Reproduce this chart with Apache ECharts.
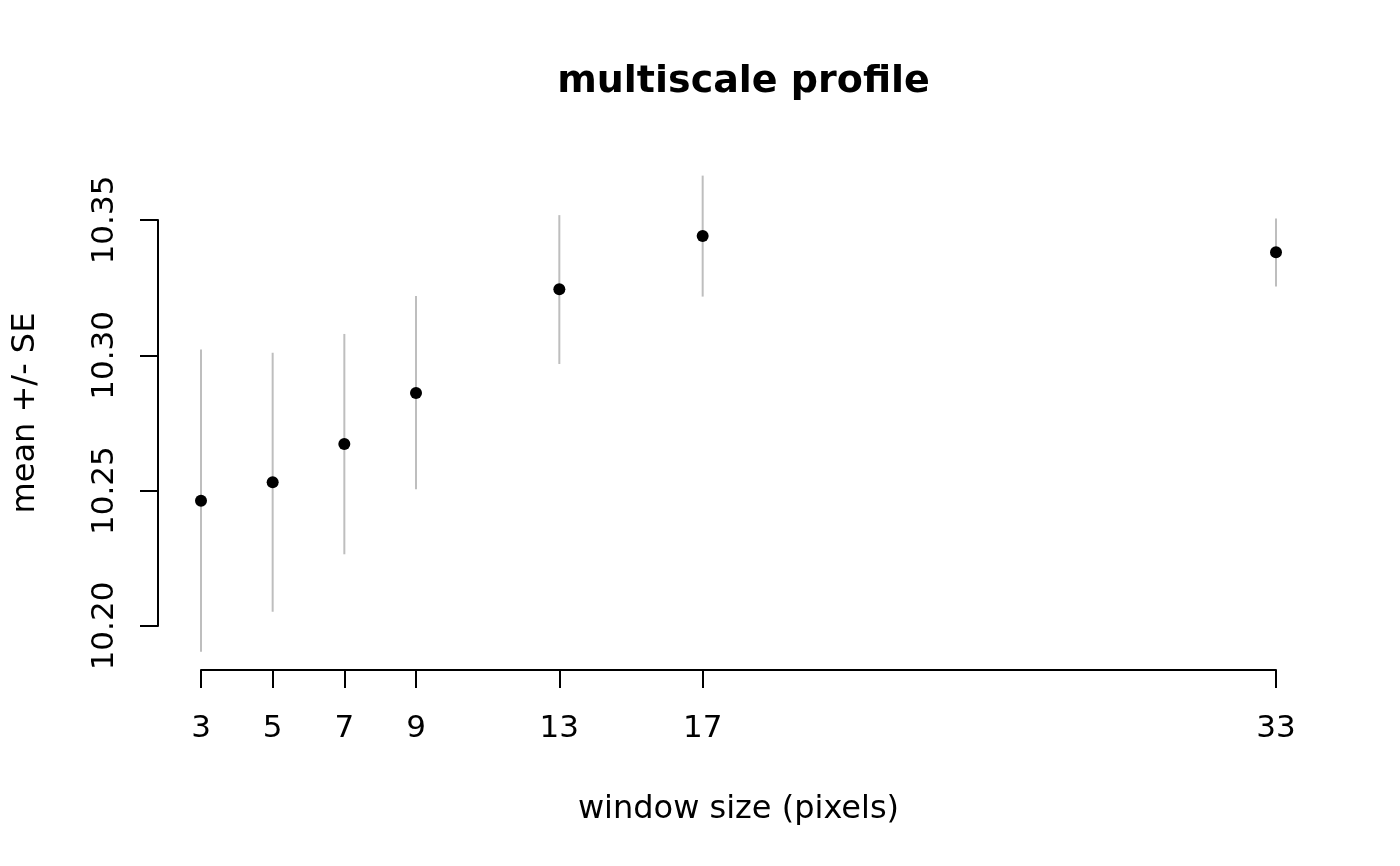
<!DOCTYPE html>
<html>
<head>
<meta charset="utf-8">
<script src="https://cdn.jsdelivr.net/npm/echarts@6/dist/echarts.min.js"></script>
<style>html,body{margin:0;padding:0;background:#fff}#chart{width:1400px;height:866px}</style>
</head>
<body>
<div id="chart"></div>
<script>
const windowSizes = [3, 5, 7, 9, 13, 17, 33];
const means = [10.2463, 10.2531, 10.2672, 10.2861, 10.3244, 10.3441, 10.3381];
const lower = [10.1905, 10.2053, 10.2265, 10.2505, 10.2968, 10.3217, 10.3254];
const upper = [10.3022, 10.3010, 10.3079, 10.3219, 10.3518, 10.3664, 10.3506];
const yTicks = [10.20, 10.25, 10.30, 10.35];

const FONT = 'DejaVu Sans';
const chart = echarts.init(document.getElementById('chart'), null, {renderer: 'canvas'});

const barData = windowSizes.map((x, i) => [x, lower[i], upper[i]]);
const pointData = windowSizes.map((x, i) => [x, means[i]]);

chart.setOption({
  animation: false,
  backgroundColor: '#ffffff',
  textStyle: {fontFamily: FONT},
  title: {
    text: 'multiscale profile',
    left: 738.5,
    textAlign: 'center',
    top: 58,
    textStyle: {fontFamily: FONT, fontSize: 38, fontWeight: 'bold', color: '#000'}
  },
  grid: {left: 201, right: 124, top: 220, bottom: 240, containLabel: false},
  xAxis: {
    type: 'value',
    min: 3, max: 33,
    offset: 44,
    name: 'window size (pixels)',
    nameLocation: 'middle',
    nameGap: 124,
    nameTextStyle: {fontFamily: FONT, fontSize: 32, color: '#000'},
    splitLine: {show: false},
    axisLine: {show: true, onZero: false, lineStyle: {color: '#000', width: 2}},
    axisTick: {show: true, length: 18, lineStyle: {color: '#000', width: 2}, customValues: windowSizes},
    axisLabel: {fontFamily: FONT, fontSize: 31, color: '#000', margin: 43, customValues: windowSizes}
  },
  yAxis: {
    type: 'value',
    min: 10.20, max: 10.35, interval: 0.05,
    offset: 43,
    name: 'mean +/- SE',
    nameLocation: 'middle',
    nameRotate: 90,
    nameGap: 116,
    nameTextStyle: {fontFamily: FONT, fontSize: 32, color: '#000', padding: [0, 0, 0, 20]},
    splitLine: {show: false},
    axisLine: {show: true, onZero: false, lineStyle: {color: '#000', width: 2}},
    axisTick: {show: true, length: 18, lineStyle: {color: '#000', width: 2}, customValues: yTicks},
    axisLabel: {fontFamily: FONT, fontSize: 31, color: '#000', margin: 38, rotate: 90,
      customValues: yTicks, formatter: v => v.toFixed(2)}
  },
  series: [
    {
      type: 'custom',
      clip: false,
      data: barData,
      renderItem: function (params, api) {
        const x = api.value(0);
        const p1 = api.coord([x, api.value(1)]);
        const p2 = api.coord([x, api.value(2)]);
        return {
          type: 'line',
          shape: {x1: p1[0], y1: p1[1], x2: p2[0], y2: p2[1]},
          style: {stroke: '#bebebe', lineWidth: 2}
        };
      },
      z: 1
    },
    {
      type: 'scatter',
      clip: false,
      data: pointData,
      symbol: 'circle',
      symbolSize: 12,
      itemStyle: {color: '#000', opacity: 1},
      z: 2
    }
  ]
});
</script>
</body>
</html>
